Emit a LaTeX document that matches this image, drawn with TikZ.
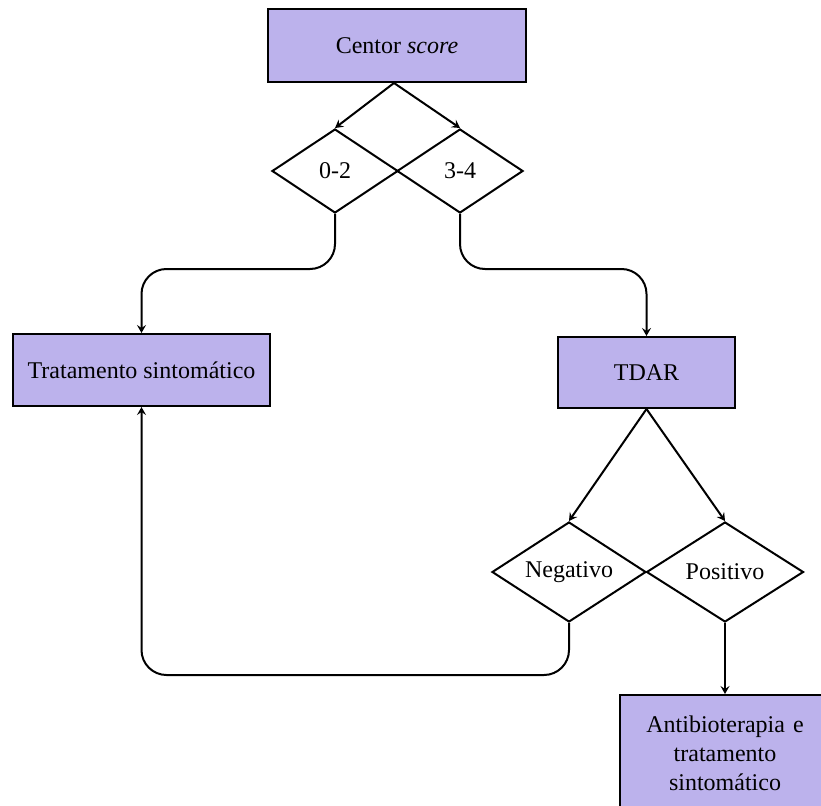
\documentclass[tikz,border=0pt]{standalone}
\usepackage{fontspec}
\setmainfont{Liberation Serif}
\usetikzlibrary{shapes.geometric,arrows.meta}
\definecolor{boxfill}{RGB}{188,178,236}
\begin{document}
\begin{tikzpicture}[x=1pt,y=-1pt,
  every node/.style={font=\fontsize{24}{29}\selectfont},
  pbox/.style={draw=black,line width=2pt,fill=boxfill,rectangle,inner sep=0pt,align=center},
  dbox/.style={draw=black,line width=2pt,fill=white,diamond,inner sep=0pt},
  arr/.style={draw=black,line width=2pt,-{Stealth[length=8pt,width=9pt,inset=3pt]}},
  line/.style={draw=black,line width=2pt}]
\useasboundingbox (0,0) rectangle (821,805);
\clip (0,0) rectangle (821,805);
\node[pbox,minimum width=258pt,minimum height=73pt] (centor) at (397,45.5) {Centor \textit{score}};
\node[dbox,minimum width=126pt,minimum height=84pt,aspect=1.5] (d02) at (335,171) {0-2};
\node[dbox,minimum width=126pt,minimum height=84pt,aspect=1.5] (d34) at (460,171) {3-4};
\node[pbox,minimum width=257pt,minimum height=72pt] (tsint) at (141.5,370) {Tratamento sintomático};
\node[pbox,minimum width=177pt,minimum height=71pt] (tdar) at (646.5,372.5) {TDAR};
\node[dbox,minimum width=154pt,minimum height=100pt,aspect=1.54] (neg) at (569,572) {Negativo};
\node[dbox,minimum width=157pt,minimum height=100pt,aspect=1.57] (pos) at (725,572) {Positivo};
\node[pbox,minimum width=210pt,minimum height=116pt,text width=200pt] (anti) at (725,753) {Antibioterapia e\\tratamento\\sintomático};
\coordinate (cs) at ([xshift=-3pt]centor.south);
\draw[arr] (cs) -- (d02.north);
\draw[arr] (cs) -- (d34.north);
\draw[arr,rounded corners=25pt] (d02.south) -- ++(0,55) -| (tsint.north);
\draw[arr,rounded corners=25pt] (d34.south) -- ++(0,55) -| (tdar.north);
\draw[arr] (tdar.south) -- (neg.north);
\draw[arr] (tdar.south) -- (pos.north);
\draw[arr,rounded corners=25pt] (neg.south) -- ++(0,52) -| (tsint.south);
\draw[arr] (pos.south) -- (anti.north);
\end{tikzpicture}
\end{document}
